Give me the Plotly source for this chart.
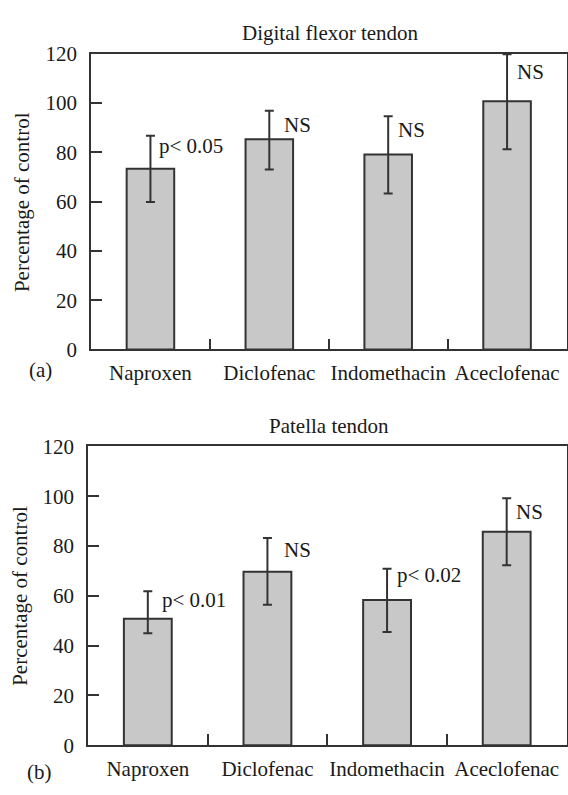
import plotly.graph_objects as go

categories = ["Naproxen", "Diclofenac", "Indomethacin", "Aceclofenac"]

flexor_values = [73.3, 85.3, 79.1, 100.7]
flexor_err_plus = [13.4, 11.6, 15.5, 19.1]
flexor_err_minus = [13.5, 12.3, 15.8, 19.5]
flexor_labels = ["p< 0.05", "NS", "NS", "NS"]

patella_values = [50.8, 69.7, 58.3, 85.7]
patella_err_plus = [11.0, 13.5, 12.6, 13.5]
patella_err_minus = [5.8, 13.3, 12.8, 13.4]
patella_labels = ["p< 0.01", "NS", "p< 0.02", "NS"]

y_ticks = [0, 20, 40, 60, 80, 100, 120]

# label placement (pixel nudges relative to the error-bar top), style only
flexor_label_dx = [7, 13, 8, 8]
flexor_label_dy = [4, 0, 0, -4]
patella_label_dx = [12, 15, 8, 7]
patella_label_dy = [5, 2, 8, 0]

FONT = "Liberation Serif, Times New Roman, serif"
TXT = "#1a1a1a"
LINE = "#333333"
BAR = "#c8c8c8"

W, H = 568, 795

fig = go.Figure()

def add_panel(values, ep, em, xa, ya):
    fig.add_trace(go.Bar(
        x=categories, y=values, xaxis=xa, yaxis=ya, width=0.4,
        marker=dict(color=BAR, line=dict(color=LINE, width=2)),
        error_y=dict(type="data", array=ep, arrayminus=em, symmetric=False,
                     color=LINE, thickness=2, width=4.5),
        showlegend=False, hoverinfo="skip",
    ))

add_panel(flexor_values, flexor_err_plus, flexor_err_minus, "x", "y")
add_panel(patella_values, patella_err_plus, patella_err_minus, "x2", "y2")

def px_x(p):
    return p / W

def px_y(p):
    return (H - p) / H

xaxis_common = dict(
    type="category", range=[-0.5, 3.5], tickson="boundaries",
    ticks="inside", ticklen=11, tickwidth=1.5, tickcolor=LINE,
    showline=True, linecolor=LINE, linewidth=1.6, mirror=True,
    showgrid=False, zeroline=False, tickangle=0,
    tickfont=dict(family=FONT, size=21, color=TXT),
    ticklabelstandoff=4, fixedrange=True,
)
yaxis_common = dict(
    range=[0, 120], tickvals=y_ticks,
    ticks="inside", ticklen=11, tickwidth=1.5, tickcolor=LINE,
    showline=True, linecolor=LINE, linewidth=1.6, mirror=True,
    showgrid=False, zeroline=False,
    tickfont=dict(family=FONT, size=21, color=TXT),
    ticklabelstandoff=8, fixedrange=True,
)

fig.update_layout(
    width=W, height=H,
    margin=dict(l=0, r=0, t=0, b=0),
    paper_bgcolor="white", plot_bgcolor="white",
    bargap=0.6,
    xaxis=dict(xaxis_common, domain=[px_x(91), px_x(566.5)], anchor="y"),
    yaxis=dict(yaxis_common, domain=[px_y(348), px_y(43)], anchor="x"),
    xaxis2=dict(xaxis_common, domain=[px_x(88), px_x(566.5)], anchor="y2"),
    yaxis2=dict(yaxis_common, domain=[px_y(756), px_y(448)], anchor="x2"),
)

annotations = []
panels = [
    ("x", "y", flexor_values, flexor_err_plus, flexor_labels, flexor_label_dx, flexor_label_dy),
    ("x2", "y2", patella_values, patella_err_plus, patella_labels, patella_label_dx, patella_label_dy),
]
for xr, yr, vals, eps, labs, dxs, dys in panels:
    for i, (v, e, lab, dx, dy) in enumerate(zip(vals, eps, labs, dxs, dys)):
        annotations.append(dict(x=categories[i], y=v + e, xref=xr, yref=yr, text=lab,
                                showarrow=False, xanchor="left", yanchor="top",
                                xshift=dx, yshift=dy,
                                font=dict(family=FONT, size=21, color=TXT)))

annotations += [
    dict(x=px_x(330), y=px_y(22), xref="paper", yref="paper", text="Digital flexor tendon",
         showarrow=False, xanchor="center", yanchor="middle",
         font=dict(family=FONT, size=21, color=TXT)),
    dict(x=px_x(329), y=px_y(427), xref="paper", yref="paper", text="Patella tendon",
         showarrow=False, xanchor="center", yanchor="middle",
         font=dict(family=FONT, size=21, color=TXT)),
    dict(x=px_x(22), y=px_y(196), xref="paper", yref="paper", text="Percentage of control",
         showarrow=False, textangle=-90, xanchor="center", yanchor="middle",
         font=dict(family=FONT, size=21, color=TXT)),
    dict(x=px_x(20), y=px_y(602), xref="paper", yref="paper", text="Percentage of control",
         showarrow=False, textangle=-90, xanchor="center", yanchor="middle",
         font=dict(family=FONT, size=21, color=TXT)),
    dict(x=px_x(40), y=px_y(369), xref="paper", yref="paper", text="(a)",
         showarrow=False, xanchor="center", yanchor="middle",
         font=dict(family=FONT, size=21, color=TXT)),
    dict(x=px_x(39), y=px_y(784), xref="paper", yref="paper", text="(b)",
         showarrow=False, xanchor="center", yanchor="middle",
         font=dict(family=FONT, size=21, color=TXT)),
]
fig.update_layout(annotations=annotations)

fig.write_html(
    "out.html",
    config={"displayModeBar": False},
    post_script="document.body.style.margin='0';document.body.style.overflow='hidden';",
)
